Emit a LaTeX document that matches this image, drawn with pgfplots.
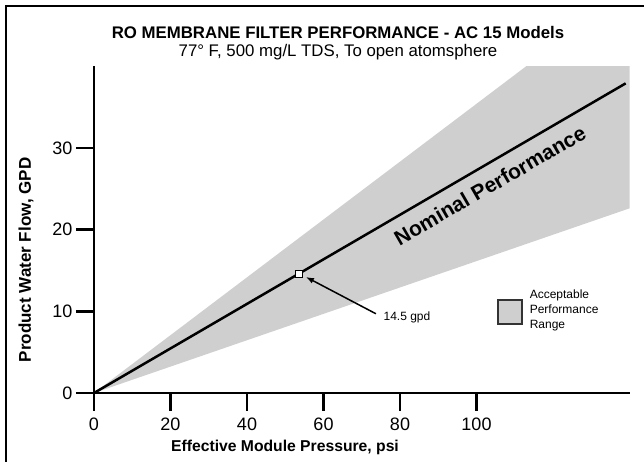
\documentclass[border=0pt]{standalone}
\usepackage{fontspec}
\setmainfont{Liberation Sans}
\usepackage{pgfplots}
\pgfplotsset{compat=1.18}
\usetikzlibrary{arrows.meta}
\definecolor{band}{RGB}{207,207,207}
\begin{document}
\begin{tikzpicture}[x=1pt,y=1pt]
\useasboundingbox (0,0) rectangle (644,462);
% frame (left and top only)
\draw[line width=2pt] (6,0) -- (6,456) -- (644,456);
% titles
\node[font=\fontsize{16.8}{19}\selectfont\bfseries] at (338,429) {RO MEMBRANE FILTER PERFORMANCE - AC 15 Models};
\node[font=\fontsize{16.8}{19}\selectfont] at (338,410) {77° F, 500 mg/L TDS, To open atomsphere};
% axis labels
\node[rotate=90, font=\fontsize{17}{19}\selectfont\bfseries] at (26,202) {Product Water Flow, GPD};
\node[font=\fontsize{15.7}{18}\selectfont\bfseries] at (285,15) {Effective Module Pressure, psi};
\begin{axis}[
    at={(94pt,69pt)}, anchor=south west,
    scale only axis,
    width=535.5pt, height=326.8pt,
    xmin=0, xmax=140, ymin=0, ymax=40,
    axis x line=bottom, axis y line=left,
    axis line style={-, line width=2.5pt},
    xtick={0,20,40,60,80,100}, ytick={0,10,20,30},
    tick align=outside,
    major tick length=18pt,
    tick style={line width=2.5pt, black},
    ticklabel style={font=\fontsize{18}{20}\selectfont},
    xticklabel style={yshift=-3pt},
    /pgf/number format/assume math mode=true,
    clip=false,
    axis on top,
]
% acceptable performance range
\addplot[fill=band, draw=none] coordinates {(0,0) (113,40) (140,40) (140,22.6)} -- cycle;
% nominal performance
\addplot[black, line width=2.5pt] coordinates {(0,0) (139,37.9)};
\node[rotate=30, font=\fontsize{21}{23}\selectfont\bfseries] at (axis cs:103.5,25.4) {Nominal Performance};
% 14.5 gpd point
\draw[-{Latex[length=8pt,width=6pt]}, line width=1.5pt] (axis cs:73.7,9.7) -- (axis cs:55.4,14.2);
\addplot[only marks, mark=square*, mark size=3.5pt, mark options={fill=white, draw=black, line width=1.2pt}] coordinates {(53.6,14.6)};
\node[anchor=west, font=\fontsize{12}{14}\selectfont] at (axis cs:74.8,9.2) {14.5 gpd};
% legend
\draw[fill=band, draw=black!80, line width=1.8pt] (axis cs:105.6,8.45) rectangle (axis cs:111.9,11.4);
\node[anchor=west, align=left, font=\fontsize{12}{15}\selectfont] at (axis cs:113,10.1) {Acceptable\\Performance\\Range};
\end{axis}
\end{tikzpicture}
\end{document}
